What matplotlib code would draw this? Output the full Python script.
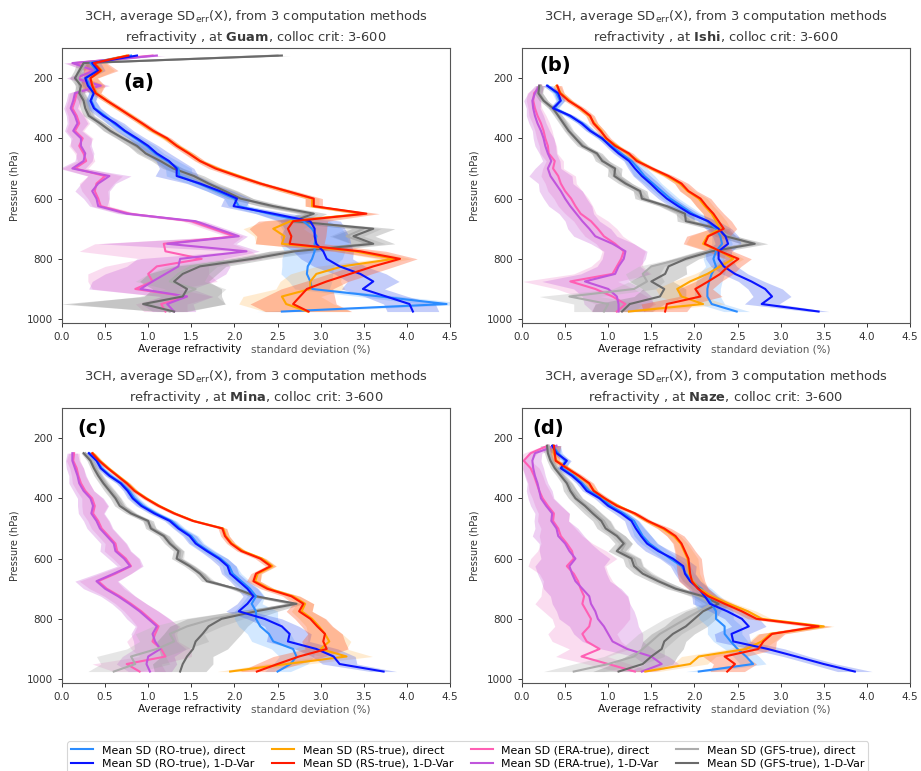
import matplotlib
matplotlib.use("Agg")
import matplotlib.pyplot as plt
from matplotlib import font_manager

# ---------------------------------------------------------------------------
# Pressure levels (hPa) per station
GUAM_P = [125, 150, 175, 200, 225, 250, 275, 300, 325, 350, 375, 400, 425, 450, 475,
          500, 525, 550, 575, 600, 625, 650, 675, 700, 725, 750, 775, 800, 825, 850,
          875, 900, 925, 950, 975]
ISHI_P = [225, 250, 275, 300, 325, 350, 375, 400, 425, 450, 475, 500, 525, 550, 575,
          600, 625, 650, 675, 700, 725, 750, 775, 800, 825, 850, 875, 900, 925, 950, 975]
MINA_P = [250, 275, 300, 325, 350, 375, 400, 425, 450, 475, 500, 525, 550, 575, 600,
          625, 650, 675, 700, 725, 750, 775, 800, 825, 850, 875, 900, 925, 950, 975]
NAZE_P = [225, 250, 275, 300, 325, 350, 375, 400, 425, 450, 475, 500, 525, 550, 575,
          600, 625, 650, 675, 700, 725, 750, 775, 800, 825, 850, 875, 900, 925, 950, 975]

# ---------------------------------------------------------------------------
# Guam: mean SD (%) and spread of the three computation methods
GUAM_RO_DIR = [0.80, 0.33, 0.40, 0.28, 0.32, 0.36, 0.34, 0.38, 0.50, 0.60, 0.72, 0.85, 0.98, 1.08, 1.22,
               1.35, 1.36, 1.58, 1.80, 2.00, 2.05, 2.40, 2.80, 2.90, 2.95, 2.93, 2.93, 2.90, 2.85, 2.84,
               2.88, 2.90, 3.69, 4.46, 2.55]
GUAM_RO_1DV = [0.87, 0.35, 0.42, 0.27, 0.30, 0.37, 0.33, 0.37, 0.48, 0.62, 0.73, 0.87, 1.00, 1.10, 1.24,
               1.33, 1.33, 1.60, 1.83, 2.03, 1.99, 2.45, 2.88, 2.93, 2.93, 2.95, 3.03, 3.07, 3.22, 3.46,
               3.61, 3.49, 3.76, 4.03, 4.07]
GUAM_RS_DIR = [0.75, 0.38, 0.46, 0.33, 0.36, 0.40, 0.52, 0.65, 0.80, 0.92, 1.05, 1.20, 1.34, 1.48, 1.60,
               1.80, 2.05, 2.30, 2.60, 2.90, 2.90, 3.50, 2.65, 2.45, 2.58, 2.55, 3.40, 3.85, 3.25, 2.95,
               2.88, 2.88, 2.55, 2.60, 2.85]
GUAM_RS_1DV = [0.77, 0.37, 0.45, 0.33, 0.35, 0.39, 0.52, 0.66, 0.79, 0.93, 1.06, 1.22, 1.33, 1.47, 1.60,
               1.78, 2.03, 2.30, 2.61, 2.92, 2.92, 3.53, 2.68, 2.62, 2.66, 2.64, 3.46, 3.92, 3.61, 3.34,
               3.07, 2.84, 2.76, 2.68, 2.86]
GUAM_ERA_DIR = [1.05, 0.15, 0.35, 0.18, 0.40, 0.17, 0.15, 0.12, 0.17, 0.20, 0.15, 0.24, 0.20, 0.25, 0.28,
                0.15, 0.50, 0.40, 0.38, 0.42, 0.45, 0.78, 1.50, 1.75, 2.00, 1.18, 1.20, 1.62, 1.10, 1.00,
                1.05, 0.85, 1.45, 1.15, 1.20]
GUAM_ERA_1DV = [1.10, 0.12, 0.38, 0.15, 0.45, 0.15, 0.13, 0.10, 0.15, 0.18, 0.13, 0.22, 0.22, 0.27, 0.25,
                0.12, 0.55, 0.42, 0.35, 0.40, 0.42, 0.75, 1.55, 1.80, 2.05, 1.22, 2.14, 1.37, 1.35, 1.20,
                1.05, 0.91, 1.45, 1.22, 1.30]
GUAM_GFS_DIR = [2.50, 0.28, 0.22, 0.18, 0.20, 0.22, 0.27, 0.30, 0.33, 0.45, 0.55, 0.70, 0.85, 0.98, 1.15,
                1.30, 1.50, 1.68, 1.90, 2.10, 2.40, 2.85, 2.70, 3.50, 3.30, 3.55, 2.65, 2.10, 1.50, 1.35,
                1.25, 1.55, 1.35, 1.00, 1.25]
GUAM_GFS_1DV = [2.55, 0.25, 0.20, 0.15, 0.22, 0.20, 0.25, 0.27, 0.31, 0.44, 0.56, 0.71, 0.87, 0.97, 1.14,
                1.29, 1.53, 1.70, 1.89, 2.07, 2.45, 2.92, 2.68, 3.61, 3.38, 3.61, 2.70, 2.21, 1.60, 1.40,
                1.30, 1.45, 1.40, 0.94, 1.30]

GUAM_RO_DIR_SPR = [0.15, 0.08, 0.06, 0.05, 0.05, 0.05, 0.05, 0.06, 0.06, 0.08, 0.08, 0.08, 0.10, 0.10, 0.12,
                   0.15, 0.15, 0.12, 0.12, 0.12, 0.12, 0.15, 0.30, 0.35, 0.35, 0.40, 0.35, 0.35, 0.30, 0.30,
                   0.25, 0.20, 0.25, 0.30, 0.30]
GUAM_RO_1DV_SPR = [0.20, 0.10, 0.08, 0.06, 0.06, 0.06, 0.06, 0.08, 0.08, 0.10, 0.10, 0.10, 0.12, 0.15, 0.15,
                   0.20, 0.25, 0.15, 0.15, 0.15, 0.15, 0.20, 0.35, 0.35, 0.40, 0.40, 0.35, 0.30, 0.30, 0.30,
                   0.30, 0.25, 0.25, 0.30, 0.30]
GUAM_RS_DIR_SPR = [0.08, 0.12, 0.15, 0.08, 0.12, 0.05, 0.05, 0.05, 0.05, 0.05, 0.05, 0.05, 0.05, 0.05, 0.05,
                   0.06, 0.06, 0.06, 0.08, 0.08, 0.08, 0.12, 0.30, 0.35, 0.35, 0.30, 0.25, 0.20, 0.30, 0.30,
                   0.35, 0.40, 0.45, 0.55, 0.50]
GUAM_RS_1DV_SPR = [0.10, 0.15, 0.20, 0.08, 0.15, 0.06, 0.05, 0.05, 0.05, 0.05, 0.05, 0.05, 0.05, 0.06, 0.06,
                   0.08, 0.08, 0.08, 0.10, 0.10, 0.10, 0.15, 0.40, 0.45, 0.40, 0.40, 0.30, 0.20, 0.25, 0.25,
                   0.25, 0.30, 0.40, 0.50, 0.50]
GUAM_ERA_DIR_SPR = [0.10, 0.10, 0.10, 0.10, 0.10, 0.08, 0.08, 0.08, 0.10, 0.12, 0.10, 0.12, 0.12, 0.10, 0.10,
                    0.15, 0.20, 0.20, 0.15, 0.12, 0.10, 0.10, 0.10, 0.10, 0.10, 0.80, 1.00, 0.70, 0.60, 0.70,
                    0.75, 0.50, 0.30, 0.30, 0.25]
GUAM_ERA_1DV_SPR = [0.10, 0.10, 0.10, 0.10, 0.10, 0.08, 0.08, 0.08, 0.10, 0.12, 0.10, 0.12, 0.12, 0.10, 0.10,
                    0.15, 0.25, 0.20, 0.20, 0.15, 0.10, 0.10, 0.10, 0.10, 0.10, 0.80, 0.15, 0.50, 0.60, 0.70,
                    0.70, 0.60, 0.30, 0.30, 0.25]
GUAM_GFS_DIR_SPR = [0.08, 0.06, 0.05, 0.05, 0.05, 0.05, 0.05, 0.05, 0.05, 0.06, 0.06, 0.06, 0.08, 0.08, 0.08,
                    0.10, 0.10, 0.10, 0.12, 0.12, 0.12, 0.12, 0.15, 0.20, 0.20, 0.20, 0.25, 0.20, 0.30, 0.35,
                    0.40, 0.35, 0.45, 0.90, 0.15]
GUAM_GFS_1DV_SPR = [0.10, 0.08, 0.06, 0.06, 0.06, 0.06, 0.06, 0.06, 0.06, 0.06, 0.08, 0.08, 0.10, 0.10, 0.10,
                    0.12, 0.12, 0.12, 0.15, 0.15, 0.15, 0.15, 0.20, 0.25, 0.25, 0.25, 0.30, 0.20, 0.30, 0.40,
                    0.40, 0.40, 0.45, 0.95, 0.15]

# ---------------------------------------------------------------------------
# Ishigakijima
ISHI_RO_DIR = [0.30, 0.40, 0.44, 0.38, 0.55, 0.70, 0.80, 0.92, 1.04, 1.15, 1.27, 1.35, 1.42, 1.52, 1.62,
               1.72, 1.85, 1.98, 2.15, 2.25, 2.30, 2.32, 2.25, 2.22, 2.25, 2.20, 2.17, 2.15, 2.15, 2.20, 2.49]
ISHI_RO_1DV = [0.29, 0.42, 0.45, 0.36, 0.56, 0.69, 0.79, 0.93, 1.02, 1.12, 1.24, 1.31, 1.39, 1.49, 1.58,
               1.68, 1.81, 1.95, 2.16, 2.28, 2.36, 2.39, 2.28, 2.28, 2.34, 2.47, 2.66, 2.82, 2.90, 2.78, 3.44]
ISHI_RS_DIR = [0.40, 0.45, 0.55, 0.67, 0.78, 0.84, 0.92, 0.97, 1.10, 1.22, 1.35, 1.50, 1.68, 1.83, 1.92,
               2.05, 2.12, 2.20, 2.25, 2.30, 2.15, 2.10, 2.30, 2.45, 2.30, 2.15, 1.95, 1.80, 1.85, 2.10, 1.24]
ISHI_RS_1DV = [0.41, 0.44, 0.54, 0.68, 0.79, 0.83, 0.91, 0.98, 1.08, 1.24, 1.33, 1.51, 1.70, 1.85, 1.93,
               2.07, 2.14, 2.22, 2.28, 2.34, 2.16, 2.12, 2.30, 2.51, 2.39, 2.30, 2.16, 2.01, 2.07, 1.68, 1.66]
ISHI_ERA_DIR = [0.22, 0.14, 0.13, 0.15, 0.18, 0.22, 0.25, 0.27, 0.30, 0.31, 0.38, 0.36, 0.42, 0.45, 0.50,
                0.57, 0.62, 0.68, 0.80, 0.88, 0.95, 1.08, 1.18, 1.15, 1.10, 1.05, 0.56, 0.85, 1.05, 1.20, 1.10]
ISHI_ERA_1DV = [0.20, 0.15, 0.12, 0.13, 0.15, 0.18, 0.22, 0.25, 0.27, 0.30, 0.34, 0.30, 0.33, 0.39, 0.45,
                0.50, 0.56, 0.63, 0.70, 0.78, 0.85, 1.05, 1.20, 1.18, 1.12, 1.08, 0.73, 1.00, 1.10, 1.12, 1.12]
ISHI_GFS_DIR = [0.22, 0.20, 0.26, 0.34, 0.43, 0.50, 0.55, 0.63, 0.72, 0.85, 0.95, 1.05, 1.10, 1.22, 1.35,
                1.42, 1.65, 1.85, 1.95, 2.25, 2.40, 2.65, 2.15, 1.85, 1.50, 1.40, 1.45, 1.30, 0.55, 1.00, 0.95]
ISHI_GFS_1DV = [0.20, 0.19, 0.25, 0.36, 0.42, 0.48, 0.54, 0.62, 0.70, 0.87, 0.93, 1.08, 1.07, 1.20, 1.37,
                1.39, 1.68, 1.89, 1.90, 2.28, 2.36, 2.70, 2.20, 1.90, 1.70, 1.66, 1.50, 1.65, 1.60, 1.25, 1.16]

ISHI_RO_DIR_SPR = [0.05, 0.05, 0.05, 0.05, 0.05, 0.05, 0.05, 0.05, 0.05, 0.06, 0.08, 0.10, 0.12, 0.10, 0.10,
                   0.10, 0.10, 0.10, 0.10, 0.10, 0.10, 0.12, 0.12, 0.12, 0.12, 0.15, 0.15, 0.15, 0.15, 0.15, 0.15]
ISHI_RO_1DV_SPR = [0.05, 0.05, 0.05, 0.05, 0.05, 0.05, 0.05, 0.05, 0.05, 0.06, 0.06, 0.08, 0.10, 0.10, 0.10,
                   0.10, 0.10, 0.10, 0.12, 0.15, 0.15, 0.15, 0.15, 0.15, 0.15, 0.15, 0.15, 0.20, 0.22, 0.20, 0.12]
ISHI_RS_DIR_SPR = [0.04, 0.04, 0.04, 0.04, 0.04, 0.04, 0.04, 0.04, 0.04, 0.04, 0.05, 0.05, 0.05, 0.06, 0.08,
                   0.10, 0.10, 0.10, 0.12, 0.12, 0.20, 0.20, 0.12, 0.12, 0.12, 0.15, 0.20, 0.25, 0.25, 0.25, 0.20]
ISHI_RS_1DV_SPR = [0.05, 0.05, 0.05, 0.05, 0.05, 0.05, 0.05, 0.05, 0.05, 0.05, 0.05, 0.05, 0.06, 0.08, 0.10,
                   0.12, 0.12, 0.12, 0.15, 0.15, 0.25, 0.25, 0.15, 0.15, 0.15, 0.15, 0.15, 0.20, 0.25, 0.30, 0.25]
ISHI_ERA_DIR_SPR = [0.05, 0.08, 0.08, 0.08, 0.10, 0.10, 0.10, 0.10, 0.10, 0.10, 0.10, 0.12, 0.20, 0.18, 0.20,
                    0.20, 0.20, 0.18, 0.20, 0.22, 0.22, 0.22, 0.25, 0.25, 0.30, 0.45, 0.55, 0.45, 0.40, 0.35, 0.30]
ISHI_ERA_1DV_SPR = [0.05, 0.08, 0.10, 0.08, 0.10, 0.10, 0.10, 0.12, 0.12, 0.10, 0.10, 0.15, 0.25, 0.20, 0.25,
                    0.25, 0.25, 0.20, 0.20, 0.25, 0.25, 0.25, 0.25, 0.25, 0.25, 0.40, 0.50, 0.40, 0.40, 0.40, 0.30]
ISHI_GFS_DIR_SPR = [0.04, 0.04, 0.04, 0.04, 0.04, 0.05, 0.05, 0.05, 0.05, 0.05, 0.06, 0.06, 0.06, 0.06, 0.06,
                    0.06, 0.06, 0.08, 0.08, 0.10, 0.10, 0.12, 0.12, 0.12, 0.15, 0.20, 0.20, 0.25, 0.35, 0.40, 0.35]
ISHI_GFS_1DV_SPR = [0.04, 0.05, 0.05, 0.05, 0.05, 0.05, 0.05, 0.06, 0.06, 0.06, 0.08, 0.08, 0.08, 0.08, 0.08,
                    0.08, 0.08, 0.10, 0.10, 0.12, 0.12, 0.15, 0.15, 0.15, 0.20, 0.25, 0.25, 0.25, 0.30, 0.40, 0.35]

# ---------------------------------------------------------------------------
# Minamidaitojima
MINA_RO_DIR = [0.32, 0.41, 0.46, 0.56, 0.69, 0.78, 0.84, 0.94, 1.09, 1.27, 1.37, 1.50, 1.57, 1.70, 1.84,
               1.94, 1.98, 2.08, 2.18, 2.25, 2.20, 2.25, 2.25, 2.30, 2.40, 2.45, 2.68, 2.72, 2.65, 2.50]
MINA_RO_1DV = [0.31, 0.40, 0.45, 0.55, 0.68, 0.76, 0.82, 0.92, 1.07, 1.25, 1.35, 1.48, 1.55, 1.68, 1.82,
               1.92, 1.95, 2.05, 2.15, 2.22, 2.15, 2.05, 2.35, 2.55, 2.64, 2.62, 2.95, 3.15, 3.22, 3.73]
MINA_RS_DIR = [0.36, 0.44, 0.54, 0.65, 0.76, 0.85, 0.98, 1.13, 1.31, 1.53, 1.87, 1.90, 1.97, 2.10, 2.32,
               2.44, 2.27, 2.24, 2.40, 2.68, 2.82, 2.78, 2.90, 2.98, 3.05, 3.10, 3.00, 3.30, 2.60, 1.95]
MINA_RS_1DV = [0.35, 0.43, 0.53, 0.64, 0.75, 0.84, 0.97, 1.12, 1.30, 1.52, 1.86, 1.89, 1.96, 2.08, 2.30,
               2.42, 2.25, 2.22, 2.38, 2.66, 2.80, 2.75, 2.88, 2.96, 3.05, 3.03, 3.07, 2.75, 2.50, 2.26]
MINA_ERA_DIR = [0.14, 0.13, 0.17, 0.19, 0.22, 0.27, 0.35, 0.38, 0.36, 0.42, 0.46, 0.54, 0.62, 0.64, 0.74,
                0.80, 0.62, 0.42, 0.52, 0.67, 0.80, 0.92, 1.02, 1.12, 1.08, 1.05, 1.15, 1.20, 0.75, 0.90]
MINA_ERA_1DV = [0.12, 0.12, 0.15, 0.18, 0.20, 0.25, 0.33, 0.36, 0.34, 0.40, 0.44, 0.52, 0.60, 0.62, 0.72,
                0.79, 0.60, 0.40, 0.50, 0.65, 0.78, 0.90, 1.00, 1.10, 1.05, 1.08, 1.14, 1.00, 0.98, 1.02]
MINA_GFS_DIR = [0.27, 0.34, 0.39, 0.44, 0.50, 0.57, 0.64, 0.70, 0.82, 0.98, 1.05, 1.20, 1.27, 1.37, 1.36,
                1.50, 1.62, 1.72, 2.00, 2.22, 2.68, 2.20, 1.75, 1.45, 1.25, 1.30, 1.10, 0.80, 0.85, 0.60]
MINA_GFS_1DV = [0.25, 0.33, 0.37, 0.42, 0.48, 0.55, 0.62, 0.67, 0.80, 1.00, 1.03, 1.18, 1.25, 1.35, 1.33,
                1.48, 1.60, 1.68, 2.02, 2.25, 2.72, 2.25, 1.85, 1.70, 1.63, 1.55, 1.52, 1.45, 1.40, 1.37]

MINA_RO_DIR_SPR = [0.04, 0.04, 0.04, 0.05, 0.05, 0.05, 0.06, 0.06, 0.06, 0.06, 0.06, 0.08, 0.08, 0.08, 0.08,
                   0.08, 0.10, 0.10, 0.10, 0.10, 0.12, 0.25, 0.25, 0.25, 0.25, 0.25, 0.25, 0.20, 0.20, 0.15]
MINA_RO_1DV_SPR = [0.04, 0.04, 0.04, 0.05, 0.05, 0.05, 0.06, 0.06, 0.06, 0.06, 0.06, 0.08, 0.08, 0.08, 0.10,
                   0.10, 0.10, 0.10, 0.12, 0.12, 0.12, 0.15, 0.20, 0.20, 0.25, 0.25, 0.25, 0.25, 0.20, 0.15]
MINA_RS_DIR_SPR = [0.03, 0.03, 0.03, 0.03, 0.03, 0.03, 0.03, 0.03, 0.03, 0.03, 0.04, 0.04, 0.04, 0.04, 0.05,
                   0.05, 0.05, 0.06, 0.06, 0.08, 0.10, 0.12, 0.15, 0.15, 0.20, 0.25, 0.30, 0.30, 0.25, 0.15]
MINA_RS_1DV_SPR = [0.03, 0.03, 0.03, 0.03, 0.04, 0.04, 0.04, 0.04, 0.04, 0.04, 0.05, 0.05, 0.05, 0.05, 0.06,
                   0.06, 0.06, 0.08, 0.08, 0.10, 0.12, 0.15, 0.18, 0.18, 0.20, 0.25, 0.25, 0.30, 0.25, 0.20]
MINA_ERA_DIR_SPR = [0.06, 0.08, 0.08, 0.08, 0.10, 0.10, 0.12, 0.15, 0.12, 0.12, 0.12, 0.12, 0.12, 0.15, 0.15,
                    0.12, 0.18, 0.22, 0.20, 0.18, 0.18, 0.20, 0.22, 0.25, 0.25, 0.30, 0.35, 0.30, 0.40, 0.30]
MINA_ERA_1DV_SPR = [0.06, 0.08, 0.10, 0.10, 0.12, 0.12, 0.15, 0.18, 0.15, 0.15, 0.15, 0.15, 0.15, 0.18, 0.18,
                    0.15, 0.20, 0.25, 0.25, 0.20, 0.20, 0.22, 0.25, 0.25, 0.25, 0.25, 0.30, 0.30, 0.35, 0.25]
MINA_GFS_DIR_SPR = [0.03, 0.03, 0.04, 0.04, 0.05, 0.05, 0.05, 0.05, 0.05, 0.05, 0.05, 0.05, 0.05, 0.05, 0.05,
                    0.05, 0.05, 0.05, 0.05, 0.05, 0.08, 0.20, 0.35, 0.40, 0.40, 0.40, 0.35, 0.40, 0.40, 0.30]
MINA_GFS_1DV_SPR = [0.03, 0.04, 0.04, 0.05, 0.05, 0.06, 0.06, 0.06, 0.06, 0.06, 0.06, 0.06, 0.06, 0.06, 0.06,
                    0.06, 0.06, 0.06, 0.06, 0.06, 0.08, 0.25, 0.40, 0.45, 0.45, 0.45, 0.40, 0.30, 0.35, 0.30]

# ---------------------------------------------------------------------------
# Naze
NAZE_RO_DIR = [0.36, 0.42, 0.50, 0.47, 0.60, 0.70, 0.78, 0.93, 1.03, 1.18, 1.30, 1.35, 1.40, 1.48, 1.60,
               1.72, 1.85, 1.90, 1.97, 2.08, 2.15, 2.20, 2.25, 2.25, 2.35, 2.35, 2.42, 2.50, 2.60, 2.68, 2.05]
NAZE_RO_1DV = [0.35, 0.40, 0.52, 0.45, 0.58, 0.68, 0.75, 0.90, 1.00, 1.15, 1.27, 1.32, 1.38, 1.45, 1.58,
               1.75, 1.87, 1.89, 1.95, 2.05, 2.12, 2.18, 2.38, 2.55, 2.63, 2.43, 2.45, 2.85, 3.18, 3.50, 3.86]
NAZE_RS_DIR = [0.36, 0.37, 0.40, 0.53, 0.65, 0.77, 0.84, 0.95, 1.12, 1.30, 1.45, 1.63, 1.76, 1.84, 1.88,
               1.92, 1.93, 1.94, 1.98, 2.06, 2.20, 2.40, 2.62, 2.78, 3.50, 2.88, 2.78, 2.60, 2.05, 1.95, 1.43]
NAZE_RS_1DV = [0.37, 0.38, 0.39, 0.52, 0.66, 0.78, 0.83, 0.96, 1.10, 1.31, 1.46, 1.65, 1.78, 1.85, 1.89,
               1.93, 1.94, 1.95, 1.97, 2.04, 2.16, 2.35, 2.55, 2.72, 3.44, 2.90, 2.80, 2.74, 2.35, 2.47, 2.38]
NAZE_ERA_DIR = [0.30, 0.10, 0.02, 0.10, 0.14, 0.17, 0.20, 0.24, 0.30, 0.37, 0.36, 0.42, 0.45, 0.52, 0.58,
                0.60, 0.52, 0.60, 0.65, 0.68, 0.72, 0.70, 0.75, 0.80, 0.78, 0.70, 0.75, 0.90, 0.69, 1.00, 1.31]
NAZE_ERA_1DV = [0.40, 0.15, 0.12, 0.13, 0.15, 0.18, 0.20, 0.22, 0.28, 0.35, 0.34, 0.40, 0.42, 0.50, 0.55,
                0.62, 0.55, 0.58, 0.62, 0.70, 0.78, 0.80, 0.85, 0.88, 0.95, 1.00, 1.05, 1.22, 1.50, 1.62, 1.39]
NAZE_GFS_DIR = [0.31, 0.32, 0.35, 0.40, 0.47, 0.54, 0.58, 0.65, 0.75, 0.85, 0.95, 1.00, 1.12, 1.20, 1.15,
                1.30, 1.33, 1.45, 1.60, 1.80, 2.05, 2.20, 2.05, 1.90, 1.75, 1.60, 1.50, 1.40, 1.30, 1.00, 0.60]
NAZE_GFS_1DV = [0.29, 0.30, 0.33, 0.38, 0.45, 0.52, 0.56, 0.62, 0.73, 0.82, 0.92, 0.97, 1.10, 1.18, 1.10,
                1.27, 1.30, 1.40, 1.58, 1.78, 2.10, 2.28, 2.10, 2.00, 1.90, 1.75, 1.65, 1.62, 1.50, 1.40, 1.12]

NAZE_RO_DIR_SPR = [0.08, 0.05, 0.05, 0.05, 0.05, 0.05, 0.05, 0.06, 0.06, 0.06, 0.06, 0.08, 0.10, 0.10, 0.10,
                   0.10, 0.10, 0.10, 0.10, 0.12, 0.15, 0.20, 0.20, 0.20, 0.20, 0.20, 0.20, 0.15, 0.15, 0.15, 0.15]
NAZE_RO_1DV_SPR = [0.10, 0.05, 0.05, 0.05, 0.05, 0.05, 0.05, 0.06, 0.06, 0.08, 0.08, 0.10, 0.12, 0.12, 0.15,
                   0.15, 0.15, 0.12, 0.12, 0.12, 0.15, 0.20, 0.20, 0.20, 0.20, 0.20, 0.20, 0.20, 0.15, 0.15, 0.20]
NAZE_RS_DIR_SPR = [0.06, 0.04, 0.04, 0.04, 0.04, 0.04, 0.04, 0.04, 0.04, 0.04, 0.04, 0.06, 0.08, 0.08, 0.10,
                   0.12, 0.12, 0.12, 0.12, 0.10, 0.08, 0.08, 0.10, 0.12, 0.12, 0.15, 0.15, 0.20, 0.20, 0.20, 0.15]
NAZE_RS_1DV_SPR = [0.08, 0.05, 0.05, 0.05, 0.05, 0.05, 0.05, 0.05, 0.05, 0.05, 0.05, 0.08, 0.10, 0.10, 0.12,
                   0.15, 0.15, 0.15, 0.15, 0.12, 0.10, 0.10, 0.10, 0.10, 0.15, 0.15, 0.15, 0.20, 0.25, 0.25, 0.20]
NAZE_ERA_DIR_SPR = [0.05, 0.08, 0.08, 0.10, 0.10, 0.10, 0.12, 0.12, 0.15, 0.18, 0.18, 0.20, 0.25, 0.30, 0.40,
                    0.50, 0.45, 0.40, 0.40, 0.45, 0.50, 0.55, 0.50, 0.45, 0.40, 0.40, 0.40, 0.35, 0.30, 0.25, 0.20]
NAZE_ERA_1DV_SPR = [0.05, 0.08, 0.10, 0.12, 0.12, 0.12, 0.15, 0.15, 0.18, 0.20, 0.20, 0.25, 0.30, 0.30, 0.35,
                    0.40, 0.40, 0.40, 0.40, 0.45, 0.45, 0.45, 0.45, 0.45, 0.40, 0.40, 0.35, 0.30, 0.20, 0.20, 0.15]
NAZE_GFS_DIR_SPR = [0.06, 0.04, 0.04, 0.04, 0.05, 0.05, 0.06, 0.06, 0.08, 0.08, 0.08, 0.08, 0.08, 0.08, 0.08,
                    0.08, 0.08, 0.08, 0.08, 0.08, 0.10, 0.12, 0.20, 0.25, 0.25, 0.25, 0.25, 0.25, 0.35, 0.40, 0.35]
NAZE_GFS_1DV_SPR = [0.08, 0.04, 0.04, 0.05, 0.05, 0.06, 0.08, 0.08, 0.10, 0.10, 0.10, 0.10, 0.10, 0.10, 0.10,
                    0.10, 0.10, 0.10, 0.10, 0.10, 0.12, 0.15, 0.20, 0.25, 0.25, 0.25, 0.25, 0.25, 0.30, 0.35, 0.30]

X_TICKS = [0.0, 0.5, 1.0, 1.5, 2.0, 2.5, 3.0, 3.5, 4.0, 4.5]
Y_TICKS = [200, 400, 600, 800, 1000]
STATIONS = ["Guam", "Ishi", "Mina", "Naze"]
PANEL_LETTERS = ["(a)", "(b)", "(c)", "(d)"]

# ---------------------------------------------------------------------------
# line style per series: key, legend label, line colour, band colour, band alpha
SERIES = [
    ("RO_DIR", "Mean SD (RO-true), direct", "#2b8cff", "#6fb6ff", 0.30),
    ("RO_1DV", "Mean SD (RO-true), 1-D-Var", "#0a14ff", "#3d5bf0", 0.30),
    ("RS_DIR", "Mean SD (RS-true), direct", "#ffa500", "#ffb347", 0.25),
    ("RS_1DV", "Mean SD (RS-true), 1-D-Var", "#ff1a00", "#ff5a2a", 0.35),
    ("ERA_DIR", "Mean SD (ERA-true), direct", "#ff5fb4", "#f08ccf", 0.30),
    ("ERA_1DV", "Mean SD (ERA-true), 1-D-Var", "#c055dc", "#c860d8", 0.30),
    ("GFS_DIR", "Mean SD (GFS-true), direct", "#acacac", "#b8b8b8", 0.35),
    ("GFS_1DV", "Mean SD (GFS-true), 1-D-Var", "#6a6a6a", "#8a8a8a", 0.35),
]
DRAW_ORDER = ["ERA_DIR", "ERA_1DV", "GFS_DIR", "GFS_1DV",
              "RO_DIR", "RS_DIR", "RO_1DV", "RS_1DV"]

data = {name: globals()[name] for name in list(globals()) if name.isupper()}
levels = {"Guam": GUAM_P, "Ishi": ISHI_P, "Mina": MINA_P, "Naze": NAZE_P}
prefix = {"Guam": "GUAM", "Ishi": "ISHI", "Mina": "MINA", "Naze": "NAZE"}
style = {s[0]: s for s in SERIES}

available = {f.name for f in font_manager.fontManager.ttflist}
narrow = "Liberation Sans Narrow" if "Liberation Sans Narrow" in available else "DejaVu Sans"

plt.rcParams["font.family"] = ["DejaVu Sans"]
fig = plt.figure(figsize=(9.21, 7.71), dpi=100)

W, H = 921.0, 771.0
ax_w, ax_h = 388 / W, 275 / H
positions = [(62 / W, 1 - 323 / H), (522 / W, 1 - 323 / H),
             (62 / W, 1 - 683 / H), (522 / W, 1 - 683 / H)]
letter_pos = [(0.157, 0.873), (0.046, 0.935), (0.039, 0.927), (0.028, 0.927)]

handles = {}
for i, station in enumerate(STATIONS):
    ax = fig.add_axes([positions[i][0], positions[i][1], ax_w, ax_h])
    p = levels[station]
    pre = prefix[station]
    for key in DRAW_ORDER:
        _, label, lc, bc, ba = style[key]
        vals = data[f"{pre}_{key}"]
        spr = data[f"{pre}_{key}_SPR"]
        lo = [v - s for v, s in zip(vals, spr)]
        hi = [v + s for v, s in zip(vals, spr)]
        ax.fill_betweenx(p, lo, hi, color=bc, alpha=ba, linewidth=0)
        ln, = ax.plot(vals, p, color=lc, lw=1.5, label=label)
        handles[key] = ln

    ax.set_xlim(0, 4.5)
    ax.set_ylim(1013, 100)
    ax.set_xticks(X_TICKS)
    ax.set_xticklabels([f"{t:.1f}" for t in X_TICKS])
    ax.set_yticks(Y_TICKS)
    ax.tick_params(labelsize=7.5, colors="#333333", length=3, width=0.7)
    for sp in ax.spines.values():
        sp.set_color("#555555")
        sp.set_linewidth(0.8)

    ax.set_title("3CH, average SD$_{\\mathrm{err}}$(X), from 3 computation methods\n"
                 f"refractivity , at $\\mathbf{{{station}}}$, colloc crit: 3-600",
                 fontsize=9.4, color="#3a3a3a", linespacing=1.35, pad=5)
    ax.set_ylabel("Pressure (hPa)", fontsize=7, color="#333333")
    ax.yaxis.set_label_coords(-0.11, 0.5)
    ax.text(0.197, -0.095, "Average refractivity", transform=ax.transAxes,
            ha="left", va="center", fontsize=7.5, color="#111111")
    ax.text(0.487, -0.095, "standard deviation (%)", transform=ax.transAxes,
            ha="left", va="center", fontsize=7.5, color="#555555")
    ax.text(letter_pos[i][0], letter_pos[i][1], PANEL_LETTERS[i], transform=ax.transAxes,
            ha="left", va="center", fontsize=14, fontweight="bold", color="black")

leg = fig.legend([handles[s[0]] for s in SERIES], [s[1] for s in SERIES],
                 loc="upper left", bbox_to_anchor=(62 / W, 1 - 736 / H),
                 ncol=4, prop={"family": narrow, "size": 7.9},
                 frameon=True, fancybox=True, edgecolor="#cccccc",
                 handlelength=2.0, handletextpad=0.8, columnspacing=1.6,
                 labelspacing=0.3, borderpad=0.35)
leg.get_frame().set_linewidth(0.8)

fig.savefig("out.png", dpi=100)
